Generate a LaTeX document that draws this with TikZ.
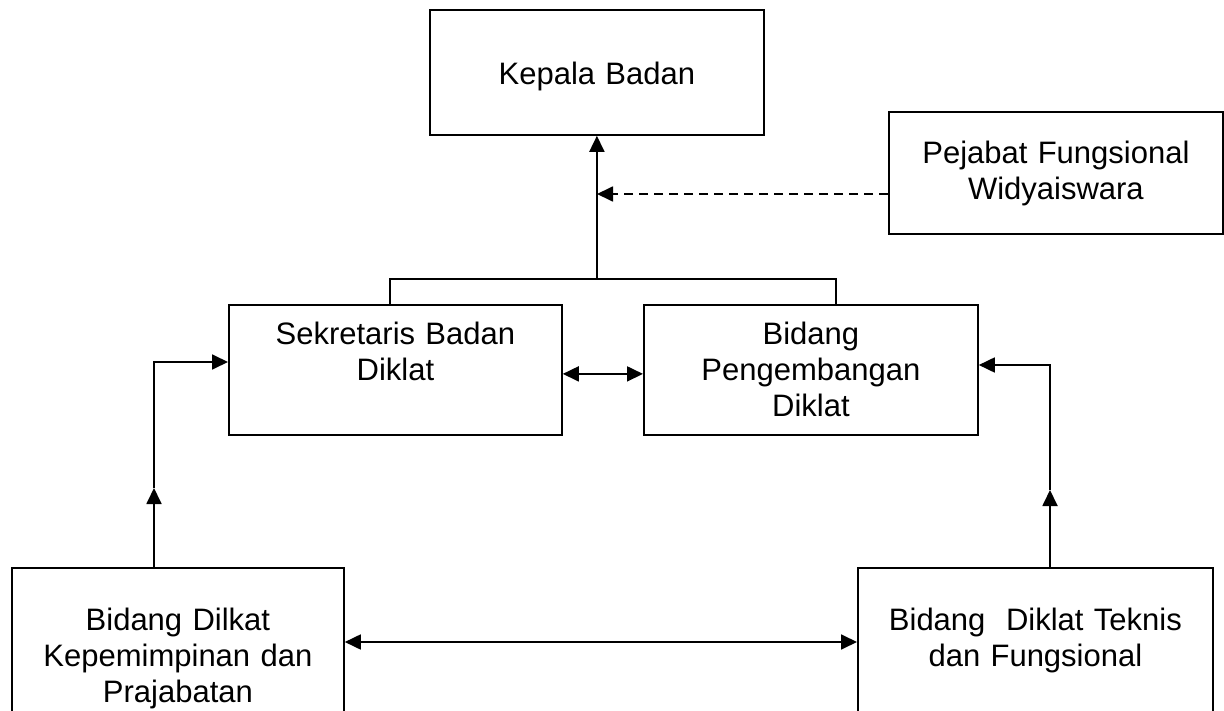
\documentclass[tikz,border=0pt]{standalone}
\usepackage{fontspec}
\setmainfont{Liberation Sans}
\usepackage{tikz}
\usetikzlibrary{arrows.meta,positioning}
\newcommand{\orgfont}{\fontsize{31}{36}\selectfont}
\tikzset{
  orgbox/.style={
    draw, line width=1.8pt, align=center, font=\orgfont,
    inner xsep=0pt, inner ysep=0pt, anchor=north west},
  orglink/.style={line width=1.8pt},
  orgarrow/.style={
    orglink, -{Triangle[length=16pt,width=15pt]}},
  orgboth/.style={
    orglink, {Triangle[length=16pt,width=15pt]}-{Triangle[length=16pt,width=15pt]}},
  orgdash/.style={orgarrow, dash pattern=on 9pt off 6pt},
}
\begin{document}
\begin{tikzpicture}[x=1pt, y=-1pt]
  \useasboundingbox (0,0) rectangle (1224,711);
  \clip (0,0) rectangle (1224,711);
  \node[orgbox, text width=334pt, text height=75pt, text depth=50pt] (kepala) at (429,9) {Kepala Badan};
  \node[orgbox, text width=334pt, text height=52pt, text depth=70pt] (pejabat) at (888,111) {Pejabat Fungsional\\Widyaiswara};
  \node[orgbox, text width=333pt, text height=40pt, text depth=90pt] (sekretaris) at (228,304) {Sekretaris Badan\\Diklat};
  \node[orgbox, text width=334pt, text height=40pt, text depth=90pt] (pengembangan) at (643,304) {Bidang\\Pengembangan\\Diklat};
  \node[orgbox, text width=332pt, text height=63pt, text depth=200pt] (kepemimpinan) at (11,567) {Bidang Dilkat\\Kepemimpinan dan\\Prajabatan};
  \node[orgbox, text width=355pt, text height=63pt, text depth=200pt] (teknis) at (857,567) {Bidang\ \ Diklat Teknis\\dan Fungsional};
  % bends and joints
  \coordinate (join) at (597,279);
  \coordinate (brkL) at (390,279);
  \coordinate (brkR) at (836,279);
  \coordinate (dashend) at (597,194);
  \coordinate (leftmid) at (154,488);
  \coordinate (leftturn) at (154,362);
  \coordinate (rightmid) at (1050,490);
  \coordinate (rightturn) at (1050,365);
  \coordinate (midlow) at (600,642);
  \draw[orglink] (brkL |- sekretaris.north) -- (brkL) -- (brkR) -- (brkR |- pengembangan.north);
  \draw[orgarrow] (kepala.south |- join) -- (kepala.south);
  \draw[orgdash] (pejabat.west |- dashend) -- (dashend);
  \draw[orgboth] ([yshift=-4pt]sekretaris.east) -- ([yshift=-4pt]pengembangan.west);
  \draw[orgarrow] (leftmid |- kepemimpinan.north) -- (leftmid);
  \draw[orgarrow] (leftmid) -- (leftturn) -- (leftturn -| sekretaris.west);
  \draw[orgarrow] (rightmid |- teknis.north) -- (rightmid);
  \draw[orgarrow] (rightmid) -- (rightturn) -- (rightturn -| pengembangan.east);
  \draw[orgboth] (kepemimpinan.east |- midlow) -- (teknis.west |- midlow);
\end{tikzpicture}
\end{document}
